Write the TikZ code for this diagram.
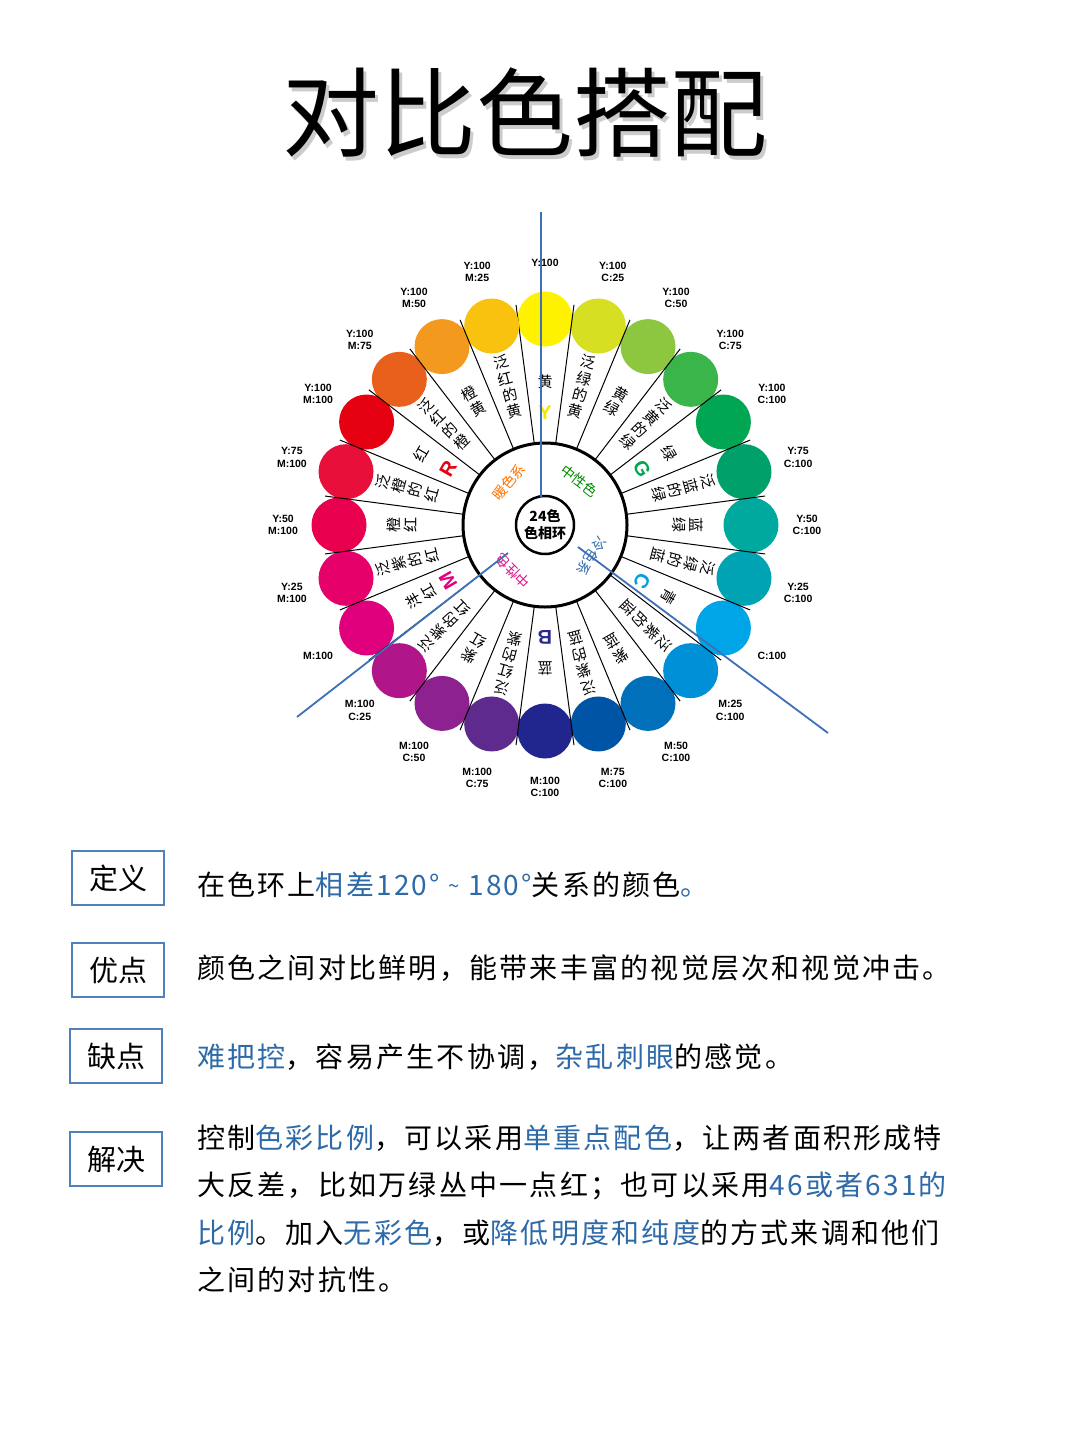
\documentclass[tikz,border=0pt]{standalone}
\usepackage{fontspec}
\usetikzlibrary{calc}
\setmainfont{Noto Sans CJK SC}
\newfontfamily\bodyf{Noto Sans CJK SC}[LetterSpace=8]
\newfontfamily\latb{Liberation Sans}
\definecolor{hl}{HTML}{2E6AA8}
\definecolor{boxc}{HTML}{4F81BD}
\definecolor{lineb}{HTML}{3E6FB8}
\begin{document}
\begin{tikzpicture}[x=1pt,y=-1pt,
  lab/.style={font=\fontsize{15}{17}\selectfont,align=center,inner sep=0},
  dotl/.style={font=\latb\bfseries\fontsize{10.5}{12.5}\selectfont,align=center,inner sep=0},
  bigl/.style={font=\latb\bfseries\fontsize{20}{20}\selectfont,inner sep=0},
  ringt/.style={font=\fontsize{14}{14}\selectfont,inner sep=0},
  tagbox/.style={draw=boxc,line width=1.3pt,minimum width=92,minimum height=54,font=\fontsize{29}{29}\selectfont},
  body/.style={anchor=west,font=\bodyf\fontsize{28}{28}\selectfont,inner sep=0},
  hll/.style={lineb,line width=1.8pt}]
\useasboundingbox (0,0) rectangle (1080,1440);
\fill[white] (0,0) rectangle (1080,1440);
\node[font=\fontsize{97}{97}\selectfont,text=gray!40] (tsh) at (528,116) {对比色搭配};
\node[font=\fontsize{97}{97}\selectfont] (title) at (525,112) {对比色搭配};
\coordinate (c) at (545,525);
\foreach \a/\col/\txt [count=\i] in {
 90/FFF200/{Y:100},
 75/D7DF23/{Y:100\\C:25},
 60/8DC63F/{Y:100\\C:50},
 45/39B54A/{Y:100\\C:75},
 30/00A651/{Y:100\\C:100},
 15/00A06B/{Y:75\\C:100},
 0/00A99D/{Y:50\\C:100},
 -15/00A3B4/{Y:25\\C:100},
 -30/00A5E8/{C:100},
 -45/0090D8/{M:25\\C:100},
 -60/0070BA/{M:50\\C:100},
 -75/0054A6/{M:75\\C:100},
 -90/21268F/{M:100\\C:100},
 -105/5E2A8E/{M:100\\C:75},
 -120/8E2190/{M:100\\C:50},
 -135/B0168A/{M:100\\C:25},
 -150/E0007E/{M:100},
 -165/E6006A/{Y:25\\M:100},
 180/E8004F/{Y:50\\M:100},
 165/E8103A/{Y:75\\M:100},
 150/E50012/{Y:100\\M:100},
 135/E8601C/{Y:100\\M:75},
 120/F39A1E/{Y:100\\M:50},
 105/F9C20F/{Y:100\\M:25}}{
  \definecolor{dc}{HTML}{\col}
  \fill[dc] ($(c)+({206*cos(\a)},{-206*sin(\a)})$) circle (27.5);
  \node[dotl] (dl\i) at ($(c)+({262*cos(\a)},{-262*sin(\a)})$) {\txt};
  \draw[line width=1pt] ($(c)+({82*cos(\a+7.5)},{-82*sin(\a+7.5)})$) -- ($(c)+({222*cos(\a+7.5)},{-222*sin(\a+7.5)})$);
}
\fill[white] (c) circle (82);
\draw[line width=3pt] (c) circle (82);
\draw[line width=2.5pt] (c) circle (29);
\node[font=\bfseries\fontsize{14}{17}\selectfont,align=center] (ctr) at (c) {24色\\色相环};
\foreach \a/\txt in {
 90/{黄},75/{泛\\绿\\的\\黄},60/{黄\\绿},45/{泛\\黄\\的\\绿},30/{绿},15/{泛\\蓝\\的\\绿},
 0/{蓝\\绿},-15/{泛\\绿\\的\\蓝},-30/{青},-45/{泛\\紫\\的\\蓝},-60/{紫\\蓝},-75/{泛\\紫\\的\\蓝},
 -90/{蓝},-105/{泛\\红\\的\\紫},-120/{紫\\红},-135/{泛\\紫\\的\\红},-150/{洋\\红},-165/{泛\\紫\\的\\红},
 180/{橙\\红},165/{泛\\橙\\的\\红},150/{红},135/{泛\\红\\的\\橙},120/{橙\\黄},105/{泛\\红\\的\\黄}}{
  \node[lab,rotate=\a-90] at ($(c)+({143*cos(\a)},{-143*sin(\a)})$) {\txt};
}
\foreach \a/\l/\col in {90/Y/F5E600,30/G/00A651,-30/C/00A0E0,-90/B/2A2A8C,-150/M/E4007F,150/R/E60012}{
  \definecolor{lc}{HTML}{\col}
  \node[bigl,text=lc,rotate=\a-90] at ($(c)+({112*cos(\a)},{-112*sin(\a)})$) {\l};
}
\node[ringt,text=orange!90!red,rotate=50] (r1) at ($(c)+({56*cos(130)},{-56*sin(130)})$) {暖色系};
\node[ringt,text=green!55!black,rotate=-38] (r2) at ($(c)+({56*cos(52)},{-56*sin(52)})$) {中性色};
\node[ringt,text=hl,rotate=-124] (r3) at ($(c)+({56*cos(-34)},{-56*sin(-34)})$) {冷色系};
\node[ringt,text=magenta!90!black,rotate=135] (r4) at ($(c)+({56*cos(-125)},{-56*sin(-125)})$) {中性色};
\coordinate (b1s) at (541,212); \coordinate (b1e) at (541,497);
\coordinate (b2s) at (297,717); \coordinate (b2e) at (508,553);
\coordinate (b3s) at (828,733); \coordinate (b3e) at (578,547);
\draw[hll] (b1s) -- (b1e);
\draw[hll] (b2s) -- (b2e);
\draw[hll] (b3s) -- (b3e);
\node[tagbox] (t1) at (118,878) {定义};
\node[tagbox] (t2) at (118,970) {优点};
\node[tagbox] (t3) at (116,1056) {缺点};
\node[tagbox] (t4) at (116,1159) {解决};
\node[body] (s1) at (197,885) {在色环上\textcolor{hl}{相差120° \raisebox{2pt}{\fontsize{20}{20}\selectfont\~{}} 180°}关系的颜色\textcolor{hl}{。}};
\node[body] (s2) at (197,968) {颜色之间对比鲜明，能带来丰富的视觉层次和视觉冲击。};
\node[body] (s3) at (197,1057) {\textcolor{hl}{难把控}，容易产生不协调，\textcolor{hl}{杂乱刺眼}的感觉。};
\node[body] (s4) at (197,1138) {控制\textcolor{hl}{色彩比例}，可以采用\textcolor{hl}{单重点配色}，让两者面积形成特};
\node[body] (s5) at (197,1186) {大反差，比如万绿丛中一点红；也可以采用\textcolor{hl}{46或者631的}};
\node[body] (s6) at (197,1233) {\textcolor{hl}{比例}。加入\textcolor{hl}{无彩色}，或\textcolor{hl}{降低明度和纯度}的方式来调和他们};
\node[body] (s7) at (197,1280) {之间的对抗性。};
\end{tikzpicture}
\end{document}
